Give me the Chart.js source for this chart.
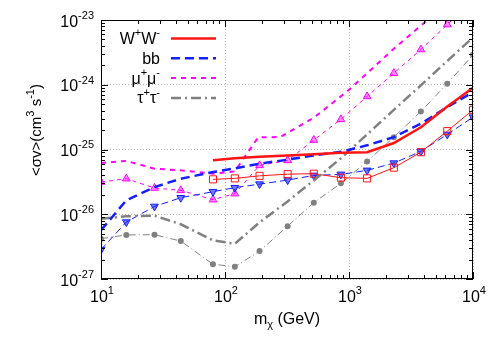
<!DOCTYPE html>
<html>
<head>
<meta charset="utf-8">
<script src="https://cdn.jsdelivr.net/npm/chart.js@4.4.0/dist/chart.umd.min.js"></script>
<style>
  html, body { margin: 0; padding: 0; background: #fff; }
  #wrap { width: 498px; height: 349px; position: relative; }
</style>
</head>
<body>
<div id="wrap"><canvas id="myChart"></canvas></div>
<script>
// dark matter masses (GeV)
const massGrid = [10, 16, 27, 44, 80, 120, 190, 320, 520, 860, 1400, 2300, 3800, 6200, 10000];
const massWW = [80, 120, 190, 320, 520, 860, 1400, 2300, 3800, 6200, 10000];
const massMuThick = [10, 16, 27, 44, 80, 120, 185, 280, 520, 990, 2300, 3800, 6200];

// <sigma v> limits (cm^3 s^-1)
const wwThick = [6.8e-26, 7.3e-26, 7.7e-26, 8.1e-26, 8.45e-26, 8.9e-26, 9.1e-26, 1.26e-25, 2.2e-25, 4.6e-25, 9.0e-25];
const wwThin = [3.46e-26, 3.58e-26, 3.92e-26, 4.16e-26, 4.23e-26, 3.67e-26, 3.58e-26, 5.24e-26, 9.1e-26, 1.92e-25, 4.1e-25];
const bbThick = [5.65e-27, 1.64e-26, 2.63e-26, 3.54e-26, 4.48e-26, 5.1e-26, 6.04e-26, 6.97e-26, 8.1e-26, 9.2e-26, 1.16e-25, 1.55e-25, 2.5e-25, 4.5e-25, 7.7e-25];
const bbThin = [2.84e-27, 7.58e-27, 1.32e-26, 1.80e-26, 2.23e-26, 2.57e-26, 2.92e-26, 3.37e-26, 3.98e-26, 4.13e-26, 4.76e-26, 6.17e-26, 9.35e-26, 1.71e-25, 3.16e-25];
const muThick = [6.2e-26, 6.67e-26, 5.06e-26, 4.76e-26, 4.23e-26, 4.6e-26, 1.54e-25, 1.56e-25, 3.1e-25, 8.2e-25, 3.6e-24, 8.2e-24, 1.8e-23];
const muThin = [3.14e-26, 3.54e-26, 2.54e-26, 2.34e-26, 1.68e-26, 2.08e-26, 5.69e-26, 6.79e-26, 1.40e-25, 2.92e-25, 6.6e-25, 1.51e-24, 3.5e-24, 8.5e-24, 2.0e-23];
const tauThick = [8.5e-27, 9.3e-27, 9.5e-27, 7.0e-27, 3.95e-27, 3.5e-27, 7.5e-27, 1.58e-26, 3.33e-26, 7.3e-26, 1.71e-25, 4.1e-25, 9.8e-25, 2.33e-24, 5.4e-24];
const tauThin = [4.2e-27, 4.78e-27, 4.84e-27, 3.85e-27, 1.69e-27, 1.55e-27, 2.70e-27, 6.55e-27, 1.51e-26, 3.0e-26, 6.55e-26, 1.55e-25, 3.87e-25, 1.04e-24, 2.90e-24];

// axis labels
const xTicks = [10, 100, 1000, 10000];
const xTickLabels = ['10^{1}', '10^{2}', '10^{3}', '10^{4}'];
const yTicks = [1e-27, 1e-26, 1e-25, 1e-24, 1e-23];
const yTickLabels = ['10^{-27}', '10^{-26}', '10^{-25}', '10^{-24}', '10^{-23}'];
const legendLabels = ['W^{+}W^{-}', 'bb', '\u03bc^{+}\u03bc^{-}', '\u03c4^{+}\u03c4^{-}'];

const FONT = '"Liberation Sans", Arial, sans-serif';
const RED = 'rgb(255,20,20)';
const BLUE = 'rgb(20,30,255)';
const MAGENTA = 'rgb(255,0,255)';
const GRAY = 'rgb(128,128,128)';

const pairs = (xs, ys) => xs.map((x, i) => ({x: x, y: ys[i]}));

// split 'a^{b}c_{d}' into plain / super / sub pieces
function parseRich(str) {
    const segs = [];
    const re = /(\^|_)\{([^}]*)\}/g;
    let last = 0, m;
    while ((m = re.exec(str))) {
        if (m.index > last) segs.push({t: str.slice(last, m.index), s: 0});
        segs.push({t: m[2], s: m[1] === '^' ? 1 : -1});
        last = re.lastIndex;
    }
    if (last < str.length) segs.push({t: str.slice(last), s: 0});
    return segs;
}

function drawRich(ctx, str, x, y, align, size) {
    const segs = parseRich(str);
    const small = Math.round(size * 0.7);
    let w = 0;
    segs.forEach(sg => {
        ctx.font = (sg.s ? small : size) + 'px ' + FONT;
        sg.w = ctx.measureText(sg.t).width;
        w += sg.w;
    });
    let cx = align === 'right' ? x - w : (align === 'center' ? x - w / 2 : x);
    ctx.textAlign = 'left';
    ctx.textBaseline = 'alphabetic';
    segs.forEach(sg => {
        ctx.font = (sg.s ? small : size) + 'px ' + FONT;
        const dy = sg.s === 1 ? -size * 0.47 : (sg.s === -1 ? size * 0.28 : 0);
        ctx.fillText(sg.t, cx, y + dy);
        cx += sg.w;
    });
}

// decade + 2..9 minor tick values
function logTicks(lo, hi) {
    const out = [];
    for (let e = lo; e < hi; e++) {
        for (let k = 1; k < 10; k++) out.push({v: k * Math.pow(10, e), major: k === 1});
    }
    out.push({v: Math.pow(10, hi), major: true});
    return out;
}

const isDecade = v => {
    const l = Math.log10(v);
    return Math.abs(l - Math.round(l)) < 1e-6;
};

const axisDecor = {
    id: 'axisDecor',
    afterDatasetsDraw(chart) {
        const {ctx, chartArea: a, scales: {x, y}} = chart;
        ctx.save();
        ctx.strokeStyle = '#000';
        ctx.lineWidth = 1;
        ctx.beginPath();
        logTicks(1, 4).forEach(t => {
            const px = Math.round(x.getPixelForValue(t.v)) + 0.5;
            const len = t.major ? 7 : 4;
            ctx.moveTo(px, a.bottom); ctx.lineTo(px, a.bottom - len);
            ctx.moveTo(px, a.top); ctx.lineTo(px, a.top + len);
        });
        logTicks(-27, -23).forEach(t => {
            const py = Math.round(y.getPixelForValue(t.v)) + 0.5;
            const len = t.major ? 7 : 4;
            ctx.moveTo(a.left, py); ctx.lineTo(a.left + len, py);
            ctx.moveTo(a.right, py); ctx.lineTo(a.right - len, py);
        });
        ctx.stroke();
        ctx.strokeRect(a.left + 0.5, a.top + 0.5, a.right - a.left - 1, a.bottom - a.top - 1);

        // legend, top-left inside the frame
        chart.data.datasets.filter(d => d.legendRow !== undefined).forEach(d => {
            const rowY = 38.5 + d.legendRow * 19.8;
            ctx.fillStyle = '#000';
            drawRich(ctx, legendLabels[d.legendRow], 160, rowY + 5.5, 'right', 16);
            ctx.strokeStyle = d.borderColor;
            ctx.lineWidth = d.borderWidth;
            ctx.setLineDash(d.borderDash || []);
            ctx.beginPath();
            ctx.moveTo(171, rowY);
            ctx.lineTo(216, rowY);
            ctx.stroke();
        });
        ctx.restore();
    },
    afterDraw(chart) {
        const {ctx, chartArea: a, scales: {x, y}} = chart;
        ctx.save();
        ctx.fillStyle = '#000';
        xTicks.forEach((v, i) => {
            drawRich(ctx, xTickLabels[i], x.getPixelForValue(v) + 1, 301.5, 'center', 16);
        });
        yTicks.forEach((v, i) => {
            drawRich(ctx, yTickLabels[i], 94, y.getPixelForValue(v) + 6.5, 'right', 16);
        });
        drawRich(ctx, 'm_{\u03c7} (GeV)', (a.left + a.right) / 2, 324, 'center', 16);
        ctx.translate(41, 130);
        ctx.rotate(-Math.PI / 2);
        drawRich(ctx, '<\u03c3v>(cm^{3} s^{-1})', 0, 0, 'center', 15);
        ctx.restore();
    }
};

const ctx = document.getElementById('myChart').getContext('2d');

const myChart = new Chart(ctx, {
    type: 'line',
    data: {
        datasets: [
            {label: 'WW', legendRow: 0, data: pairs(massWW, wwThick), borderColor: RED, borderWidth: 2.5, pointRadius: 0},
            {label: 'bb', legendRow: 1, data: pairs(massGrid, bbThick), borderColor: BLUE, borderWidth: 2.5, borderDash: [9, 5], pointRadius: 0},
            {label: 'mumu', legendRow: 2, data: pairs(massMuThick, muThick), borderColor: MAGENTA, borderWidth: 2, borderDash: [5, 5], pointRadius: 0},
            {label: 'tautau', legendRow: 3, data: pairs(massGrid, tauThick), borderColor: GRAY, borderWidth: 2.5, borderDash: [10, 4, 2, 4], pointRadius: 0},
            {label: 'WW pts', data: pairs(massWW, wwThin), borderColor: RED, borderWidth: 1,
                pointStyle: 'rect', pointRadius: 5, pointBorderWidth: 1, pointBackgroundColor: 'rgba(255,255,255,0)', pointBorderColor: RED},
            {label: 'bb pts', data: pairs(massGrid, bbThin), borderColor: BLUE, borderWidth: 1, borderDash: [7, 4],
                pointStyle: 'triangle', pointRotation: 180, pointRadius: 4.5, pointBorderWidth: 1, pointBackgroundColor: 'rgba(20,30,255,0.6)', pointBorderColor: BLUE},
            {label: 'mumu pts', data: pairs(massGrid, muThin), borderColor: MAGENTA, borderWidth: 1, borderDash: [4, 4],
                pointStyle: 'triangle', pointRadius: 4.5, pointBorderWidth: 1, pointBackgroundColor: 'rgba(255,0,255,0.45)', pointBorderColor: MAGENTA},
            {label: 'tautau pts', data: pairs(massGrid, tauThin), borderColor: GRAY, borderWidth: 1, borderDash: [7, 3, 1, 3],
                pointStyle: 'circle', pointRadius: 3, pointBorderWidth: 0, pointBackgroundColor: GRAY, pointBorderColor: GRAY}
        ]
    },
    options: {
        responsive: true,
        maintainAspectRatio: false,
        devicePixelRatio: 1,
        animation: false,
        layout: {padding: {top: 20, right: 25, left: 0, bottom: 0}},
        elements: {line: {tension: 0, fill: false}},
        plugins: {legend: {display: false}, tooltip: {enabled: false}},
        scales: {
            x: {
                type: 'logarithmic',
                min: 10,
                max: 10000,
                ticks: {display: false},
                border: {display: false, dash: [1, 2]},
                grid: {
                    drawTicks: false,
                    borderDash: [1, 2],
                    color: c => (c.tick && isDecade(c.tick.value)) ? '#b4b4b4' : 'rgba(0,0,0,0)'
                },
                afterFit: s => { s.height = 70; }
            },
            y: {
                type: 'logarithmic',
                min: 1e-27,
                max: 1e-23,
                ticks: {display: false},
                border: {display: false, dash: [1, 2]},
                grid: {
                    drawTicks: false,
                    borderDash: [1, 2],
                    color: c => (c.tick && isDecade(c.tick.value)) ? '#b4b4b4' : 'rgba(0,0,0,0)'
                },
                afterFit: s => { s.width = 101; }
            }
        }
    },
    plugins: [axisDecor]
});
</script>
</body>
</html>
